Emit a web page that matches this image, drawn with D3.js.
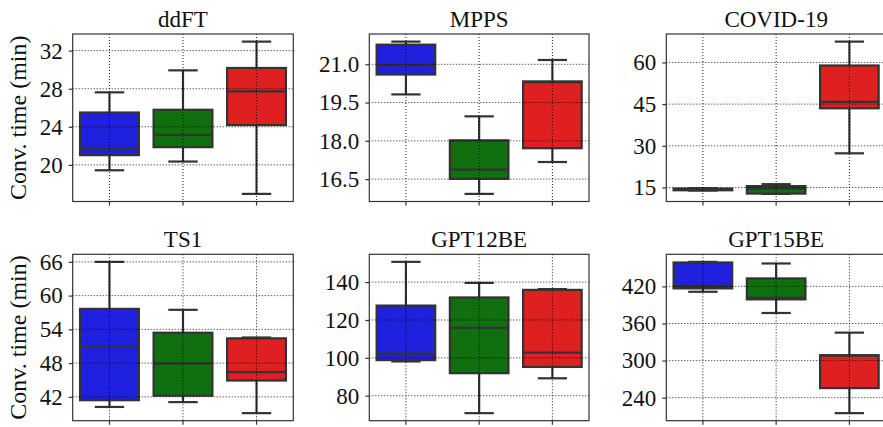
<!DOCTYPE html>
<html>
<head>
<meta charset="utf-8">
<script src="https://cdn.jsdelivr.net/npm/d3@7"></script>
<style>
  html, body { margin: 0; padding: 0; background: #fff; }
  svg { display: block; }
  svg text { font-family: "Liberation Serif", "Times New Roman", serif !important; fill: #111; }
</style>
</head>
<body>
<svg id="chart" width="883" height="427"></svg>
<script>
// Convergence time per dataset, three methods per panel (blue, green, red).
const titles = ["ddFT", "MPPS", "COVID-19", "TS1", "GPT12BE", "GPT15BE"];
const methodColors = ["#2020df", "#107010", "#df2020"];

// Box-plot statistics, one array of three methods per dataset.
const whiskerLow = [
  [19.43, 20.35, 16.95],
  [19.82, 15.92, 17.17],
  [13.9, 12.7, 27.3],
  [40.2, 41.06, 39.1],
  [98.1, 70.8, 89.2],
  [411.3, 377, 215]
];
const quartile1 = [
  [21.02, 21.86, 24.18],
  [20.6, 16.51, 17.71],
  [14.0, 12.8, 43.5],
  [41.4, 42.2, 44.9],
  [98.8, 91.9, 95.2],
  [416.8, 399, 255.5]
];
const medians = [
  [21.73, 23.16, 27.73],
  [20.97, 16.87, 20.3],
  [14.3, 14.6, 45.8],
  [50.9, 47.9, 46.4],
  [102.2, 115.8, 102.8],
  [420.8, 401.6, 308]
];
const quartile3 = [
  [25.5, 25.79, 30.18],
  [21.77, 18.02, 20.33],
  [14.6, 15.5, 58.9],
  [57.64, 53.4, 52.4],
  [127.6, 131.9, 135.9],
  [458.7, 432.9, 308.7]
];
const whiskerHigh = [
  [27.62, 29.93, 32.95],
  [21.89, 18.96, 21.17],
  [14.7, 16.2, 67.5],
  [66, 57.47, 52.55],
  [150.7, 139.6, 136.3],
  [459.7, 457.1, 345.2]
];
const yTicks = [
  [20, 24, 28, 32],
  [16.5, 18.0, 19.5, 21.0],
  [15, 30, 45, 60],
  [42, 48, 54, 60, 66],
  [80, 100, 120, 140],
  [240, 300, 360, 420]
];
const yTickFormats = ["d", ".1f", "d", "d", "d", "d"];
const yLabel = "Conv. time (min)";

// Figure layout
const colX = [[72.7, 293.3], [369.3, 589], [666.3, 886]];
const rowY = [[34, 201.5], [254.3, 420.7]];
const frameColor = "#333";
const boxLine = "#333";
const serif = '"Liberation Serif", "Times New Roman", serif';

const svg = d3.select("#chart");

titles.forEach((title, i) => {
  const r = Math.floor(i / 3), c = i % 3;
  const [x0, x1] = colX[c];
  const [y0, y1] = rowY[r];

  const lo = d3.min(whiskerLow[i]), hi = d3.max(whiskerHigh[i]);
  const pad = (hi - lo) * 0.05;
  const y = d3.scaleLinear().domain([lo - pad, hi + pad]).range([y1, y0]);
  const x = d3.scaleBand().domain([0, 1, 2]).range([x0, x1]).padding(0);
  const bw = x.bandwidth() * 0.8;
  const cx = k => x(k) + x.bandwidth() / 2;

  const g = svg.append("g");

  // boxes with whiskers and caps
  [0, 1, 2].forEach(k => {
    const m = g.append("g").attr("stroke", boxLine).attr("stroke-width", 2.2);
    m.append("line").attr("x1", cx(k)).attr("x2", cx(k))
      .attr("y1", y(quartile3[i][k])).attr("y2", y(whiskerHigh[i][k]));
    m.append("line").attr("x1", cx(k)).attr("x2", cx(k))
      .attr("y1", y(quartile1[i][k])).attr("y2", y(whiskerLow[i][k]));
    [whiskerHigh[i][k], whiskerLow[i][k]].forEach(v => {
      m.append("line").attr("x1", cx(k) - bw / 4).attr("x2", cx(k) + bw / 4)
        .attr("y1", y(v)).attr("y2", y(v));
    });
    m.append("rect")
      .attr("x", cx(k) - bw / 2).attr("width", bw)
      .attr("y", y(quartile3[i][k]))
      .attr("height", Math.max(0.5, y(quartile1[i][k]) - y(quartile3[i][k])))
      .attr("fill", methodColors[k]);
    m.append("line").attr("x1", cx(k) - bw / 2).attr("x2", cx(k) + bw / 2)
      .attr("y1", y(medians[i][k])).attr("y2", y(medians[i][k]));
  });

  // dotted grid drawn over the boxes
  const grid = g.append("g").attr("stroke", "#000").attr("stroke-width", 0.9)
    .attr("stroke-dasharray", "1,2");
  yTicks[i].forEach(t => {
    grid.append("line").attr("x1", x0).attr("x2", x1).attr("y1", y(t)).attr("y2", y(t));
  });
  [0, 1, 2].forEach(k => {
    grid.append("line").attr("x1", cx(k)).attr("x2", cx(k)).attr("y1", y0).attr("y2", y1);
  });

  // axes
  const yAxis = d3.axisLeft(y).tickValues(yTicks[i]).tickSize(4).tickPadding(6)
    .tickFormat(d3.format(yTickFormats[i]));
  const ya = g.append("g").attr("transform", `translate(${x0},0)`).call(yAxis)
    .attr("font-family", null).attr("font-size", null);
  ya.select(".domain").remove();
  ya.selectAll(".tick line").attr("stroke", frameColor).attr("stroke-width", 1.2);
  ya.selectAll(".tick text").style("font-family", serif).style("font-size", "23px")
    .attr("fill", "#111");

  const xAxis = d3.axisBottom(x).tickSize(4).tickFormat("");
  const xa = g.append("g").attr("transform", `translate(0,${y1})`).call(xAxis);
  xa.select(".domain").remove();
  xa.selectAll(".tick line").attr("stroke", frameColor).attr("stroke-width", 1.2);

  // frame
  g.append("rect").attr("x", x0).attr("y", y0).attr("width", x1 - x0).attr("height", y1 - y0)
    .attr("fill", "none").attr("stroke", frameColor).attr("stroke-width", 1.2);

  // title
  g.append("text").attr("x", (x0 + x1) / 2).attr("y", y0 - 7.5)
    .attr("text-anchor", "middle").style("font-family", serif).style("font-size", "23px")
    .text(title);

  if (c === 0) {
    g.append("text")
      .attr("transform", `translate(26,${(y0 + y1) / 2}) rotate(-90)`)
      .attr("text-anchor", "middle").style("font-family", serif).style("font-size", "24px")
      .text(yLabel);
  }
});
</script>
</body>
</html>
